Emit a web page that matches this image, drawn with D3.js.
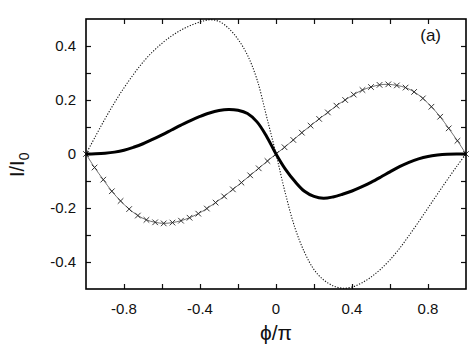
<!DOCTYPE html>
<html>
<head>
<meta charset="utf-8">
<script src="https://cdn.jsdelivr.net/npm/d3@7"></script>
<style>
    body { margin: 0; background: #fff; }
    text { font-family: "Liberation Sans", Arial, sans-serif; fill: #111; }
</style>
</head>
<body>
<div id="chart"></div>
<script>
// phase grid for the two smooth curves
const phi = [-1, -0.95, -0.9, -0.85, -0.8, -0.75, -0.7, -0.65, -0.6, -0.55, -0.5,
    -0.45, -0.4, -0.35, -0.3, -0.25, -0.2, -0.15, -0.1, -0.05, 0,
    0.05, 0.1, 0.15, 0.2, 0.25, 0.3, 0.35, 0.4, 0.45, 0.5,
    0.55, 0.6, 0.65, 0.7, 0.75, 0.8, 0.85, 0.9, 0.95, 1];

const dotted = [0, 0.066, 0.13, 0.19, 0.245, 0.295, 0.34, 0.378, 0.41, 0.437, 0.459,
    0.476, 0.489, 0.497, 0.491, 0.466, 0.425, 0.366, 0.276, 0.14, 0,
    -0.148, -0.274, -0.364, -0.428, -0.466, -0.488, -0.497, -0.493, -0.478, -0.456,
    -0.427, -0.392, -0.35, -0.302, -0.252, -0.2, -0.148, -0.097, -0.047, 0];

const thick = [0, 0.001, 0.003, 0.007, 0.014, 0.025, 0.038, 0.054, 0.071, 0.089, 0.107,
    0.124, 0.139, 0.152, 0.161, 0.165, 0.162, 0.15, 0.119, 0.066, 0,
    -0.057, -0.102, -0.138, -0.157, -0.164, -0.159, -0.149, -0.137, -0.122, -0.105,
    -0.086, -0.066, -0.047, -0.031, -0.018, -0.009, -0.004, -0.001, 0, 0];

// crosses series (45 samples)
const crossX = [-1, -0.955, -0.909, -0.864, -0.818, -0.773, -0.727, -0.682, -0.636, -0.591, -0.545,
    -0.5, -0.455, -0.409, -0.364, -0.318, -0.273, -0.227, -0.182, -0.136, -0.091, -0.045, 0,
    0.045, 0.091, 0.136, 0.182, 0.227, 0.273, 0.318, 0.364, 0.409, 0.455, 0.5,
    0.545, 0.591, 0.636, 0.682, 0.727, 0.773, 0.818, 0.864, 0.909, 0.955, 1];
const crossY = [0, -0.05, -0.095, -0.138, -0.174, -0.204, -0.228, -0.244, -0.253, -0.257, -0.254,
    -0.247, -0.236, -0.221, -0.202, -0.18, -0.157, -0.131, -0.106, -0.079, -0.053, -0.026, 0,
    0.025, 0.052, 0.079, 0.105, 0.13, 0.154, 0.179, 0.2, 0.22, 0.237, 0.248,
    0.256, 0.258, 0.254, 0.246, 0.23, 0.206, 0.175, 0.138, 0.095, 0.049, 0];

const xTicks = [-0.8, -0.6, -0.4, -0.2, 0, 0.2, 0.4, 0.6, 0.8];
const xLabels = [-0.8, -0.4, 0, 0.4, 0.8];
const yTicks = [-0.4, -0.3, -0.2, -0.1, 0, 0.1, 0.2, 0.3, 0.4];
const yLabels = [-0.4, -0.2, 0, 0.2, 0.4];

const width = 475, height = 347;
const margin = { top: 19, right: 9, bottom: 58, left: 86 };

const svg = d3.select("#chart").append("svg")
    .attr("width", width)
    .attr("height", height);

const x = d3.scaleLinear().domain([-1, 1]).range([margin.left, width - margin.right]);
const y = d3.scaleLinear().domain([-0.5, 0.5]).range([height - margin.bottom, margin.top]);

const fmt = d => d === 0 ? "0" : d3.format(".1f")(d).replace("\u2212", "-");

// axes, ticks pointing inward on all four sides
svg.append("g")
    .attr("transform", `translate(0,${y(-0.5)})`)
    .call(d3.axisBottom(x).tickValues(xTicks).tickSizeInner(-5).tickSizeOuter(0).tickFormat(""))
    .call(g => g.select(".domain").remove());
svg.append("g")
    .attr("transform", `translate(0,${y(0.5)})`)
    .call(d3.axisTop(x).tickValues(xTicks).tickSizeInner(-5).tickSizeOuter(0).tickFormat(""))
    .call(g => g.select(".domain").remove());
svg.append("g")
    .attr("transform", `translate(${x(-1)},0)`)
    .call(d3.axisLeft(y).tickValues(yTicks).tickSizeInner(-5).tickSizeOuter(0).tickFormat(""))
    .call(g => g.select(".domain").remove());
svg.append("g")
    .attr("transform", `translate(${x(1)},0)`)
    .call(d3.axisRight(y).tickValues(yTicks).tickSizeInner(-5).tickSizeOuter(0).tickFormat(""))
    .call(g => g.select(".domain").remove());
svg.selectAll(".tick line").attr("stroke", "#111").attr("stroke-width", 1.2);

svg.selectAll(".xlab").data(xLabels).enter().append("text")
    .attr("x", d => x(d))
    .attr("y", y(-0.5) + 25)
    .attr("text-anchor", "middle")
    .style("font-size", "15px")
    .text(fmt);

svg.selectAll(".ylab").data(yLabels).enter().append("text")
    .attr("x", x(-1) - 10)
    .attr("y", d => y(d) + 5)
    .attr("text-anchor", "end")
    .style("font-size", "15px")
    .text(fmt);

// curves
const line = d3.line().x(d => x(d[0])).y(d => y(d[1])).curve(d3.curveCatmullRom);

svg.append("path")
    .attr("d", line(d3.zip(phi, dotted)))
    .attr("fill", "none")
    .attr("stroke", "#111")
    .attr("stroke-width", 1.1)
    .attr("stroke-dasharray", "1.2,1.6");

svg.append("path")
    .attr("d", line(d3.zip(crossX, crossY)))
    .attr("fill", "none")
    .attr("stroke", "#333")
    .attr("stroke-width", 0.7);

svg.selectAll(".cross").data(d3.zip(crossX, crossY)).enter().append("path")
    .attr("d", d => {
        const cx = x(d[0]), cy = y(d[1]), s = 2.8;
        return `M${cx - s},${cy - s}L${cx + s},${cy + s}M${cx - s},${cy + s}L${cx + s},${cy - s}`;
    })
    .attr("stroke", "#222")
    .attr("stroke-width", 0.9);

svg.append("path")
    .attr("d", line(d3.zip(phi, thick)))
    .attr("fill", "none")
    .attr("stroke", "#000")
    .attr("stroke-width", 3);

// frame
svg.append("rect")
    .attr("x", x(-1))
    .attr("y", y(0.5))
    .attr("width", x(1) - x(-1))
    .attr("height", y(-0.5) - y(0.5))
    .attr("fill", "none")
    .attr("stroke", "#000")
    .attr("stroke-width", 1.6);

// labels
svg.append("text")
    .attr("x", 441)
    .attr("y", 41)
    .attr("text-anchor", "end")
    .style("font-size", "17px")
    .text("(a)");

svg.append("text")
    .attr("x", x(0))
    .attr("y", 340)
    .attr("text-anchor", "middle")
    .style("font-size", "21px")
    .text("\u03d5/\u03c0");

const yl = svg.append("text")
    .attr("transform", `translate(24,${y(-0.04)}) rotate(-90)`)
    .attr("text-anchor", "middle")
    .style("font-size", "20px");
yl.append("tspan").text("I/I");
yl.append("tspan").attr("dy", 5).style("font-size", "14px").text("0");
</script>
</body>
</html>
